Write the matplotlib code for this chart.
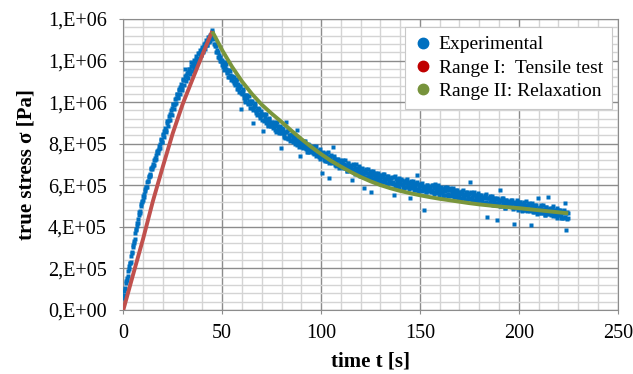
import numpy as np
import matplotlib
matplotlib.use("Agg")
import matplotlib.pyplot as plt
from matplotlib.ticker import MultipleLocator
from matplotlib.lines import Line2D

# experimental stress [kPa], loading part, sampled every 0.5 s (two interleaved scans)
rise_t = np.arange(0, 45.01, 0.5)
rise_kpa = [
    60, 92, 104, 141, 152, 188, 210, 224, 260, 280,
    312, 331, 371, 386, 420, 436, 470, 478, 510, 520,
    548, 556, 584, 590, 618, 620, 646, 650, 676, 677,
    704, 700, 733, 728, 762, 755, 790, 780, 818, 806,
    846, 830, 878, 858, 900, 885, 934, 912, 960, 940,
    990, 965, 1015, 995, 1038, 1020, 1064, 1040, 1085, 1060,
    1105, 1082, 1126, 1100, 1140, 1118, 1160, 1134, 1172, 1150,
    1190, 1165, 1204, 1180, 1220, 1195, 1236, 1210, 1250, 1228,
    1266, 1242, 1282, 1258, 1298, 1275, 1312, 1290, 1325, 1306,
    1345,
]
rise2_t = np.arange(0.25, 44.76, 0.5)
rise2_kpa = [
    70, 103, 131, 143, 162, 196, 225, 233, 272, 302,
    320, 342, 388, 404, 420, 455, 467, 498, 524, 531,
    544, 571, 593, 592, 621, 639, 643, 652, 685, 689,
    695, 720, 723, 747, 766, 768, 773, 801, 822, 810,
    844, 862, 861, 867, 910, 911, 913, 945, 942, 971,
    993, 988, 992, 1020, 1039, 1025, 1057, 1072, 1068, 1071,
    1110, 1106, 1160, 1129, 1120, 1144, 1160, 1150, 1195, 1172,
    1187, 1169, 1197, 1208, 1201, 1200, 1237, 1232, 1228, 1254,
    1245, 1268, 1284, 1274, 1274, 1297, 1312, 1296, 1325, 1339,
]

# relaxation part
decay_t = np.arange(45.5, 225.01, 0.5)
decay_kpa = [
    1320, 1280, 1278, 1243, 1250, 1219, 1227, 1197, 1200, 1178,
    1193, 1156, 1172, 1184, 1143, 1123, 1154, 1132, 1108, 1124,
    1103, 1122, 1081, 1097, 1110, 1065, 1067, 1077, 968, 1056,
    1062, 1033, 1011, 1035, 1021, 996, 1031, 991, 1004, 974,
    900, 984, 994, 948, 962, 972, 945, 922, 955, 941,
    860, 910, 929, 943, 906, 889, 922, 904, 883, 902,
    884, 906, 868, 888, 903, 862, 867, 880, 780, 866,
    875, 850, 831, 858, 905, 826, 864, 828, 844, 817,
    817, 831, 844, 800, 816, 866, 803, 783, 740, 806,
    811, 778, 798, 814, 778, 762, 797, 780, 761, 781,
    764, 787, 750, 770, 787, 747, 752, 767, 726, 754,
    658, 740, 721, 749, 740, 719, 758, 634, 739, 713,
    714, 786, 742, 699, 716, 728, 704, 684, 720, 709,
    715, 683, 704, 721, 686, 671, 707, 691, 673, 694,
    626, 701, 664, 685, 703, 663, 669, 684, 644, 672,
    682, 659, 586, 670, 661, 640, 680, 645, 663, 570,
    639, 654, 668, 626, 643, 657, 634, 615, 651, 641,
    648, 616, 638, 656, 621, 607, 644, 629, 611, 633,
    617, 642, 605, 553, 645, 606, 613, 628, 589, 618,
    629, 606, 589, 618, 610, 590, 630, 596, 614, 537,
    591, 607, 621, 579, 597, 612, 649, 570, 607, 597,
    604, 573, 595, 481, 580, 566, 603, 588, 571, 593,
    577, 602, 566, 588, 607, 568, 575, 591, 552, 581,
    592, 569, 552, 581, 574, 554, 594, 560, 578, 553,
    555, 571, 585, 543, 561, 575, 552, 533, 570, 560,
    567, 536, 558, 577, 543, 529, 566, 551, 535, 557,
    617, 566, 530, 552, 570, 531, 538, 554, 515, 544,
    555, 532, 515, 545, 537, 517, 557, 449, 541, 516,
    518, 534, 548, 506, 525, 539, 516, 433, 534, 524,
    577, 500, 523, 541, 507, 493, 530, 516, 499, 521,
    505, 530, 495, 517, 414, 496, 503, 520, 481, 510,
    521, 498, 481, 510, 502, 482, 522, 488, 506, 481,
    483, 409, 513, 471, 490, 504, 481, 462, 537, 489,
    496, 465, 487, 505, 471, 457, 494, 479, 462, 545,
    468, 493, 457, 479, 498, 459, 466, 482, 443, 472,
    483, 460, 443, 473, 466, 445, 513, 385, 470, 445,
]
decay2_t = np.arange(45.25, 224.76, 0.5)
decay2_kpa = [
    1312, 1304, 1270, 1272, 1243, 1241, 1214, 1218, 1197, 1205,
    1167, 1186, 1191, 1158, 1142, 1154, 1120, 1150, 1126, 1109,
    1122, 1090, 1094, 1108, 1062, 1087, 1074, 1047, 1080, 1043,
    1041, 1053, 1022, 1003, 1030, 1032, 992, 1006, 974, 997,
    1004, 962, 975, 980, 956, 939, 961, 966, 931, 936,
    916, 937, 945, 914, 902, 917, 885, 919, 898, 884,
    904, 874, 881, 899, 856, 884, 874, 850, 886, 853,
    854, 870, 842, 826, 857, 862, 825, 843, 814, 840,
    849, 809, 825, 832, 810, 795, 819, 827, 794, 801,
    782, 805, 814, 785, 774, 790, 760, 795, 776, 763,
    784, 755, 763, 781, 740, 769, 759, 737, 773, 741,
    743, 760, 732, 717, 749, 755, 719, 737, 709, 736,
    746, 707, 723, 731, 710, 695, 720, 728, 696, 704,
    686, 710, 720, 692, 682, 699, 670, 706, 688, 676,
    697, 669, 677, 696, 656, 685, 676, 654, 691, 659,
    661, 679, 652, 638, 670, 676, 641, 660, 633, 660,
    671, 632, 649, 658, 637, 624, 650, 659, 627, 636,
    619, 643, 654, 627, 617, 635, 607, 644, 626, 615,
    637, 610, 618, 638, 598, 628, 620, 598, 636, 605,
    608, 626, 600, 586, 619, 626, 591, 611, 584, 612,
    623, 585, 602, 611, 591, 579, 605, 614, 583, 592,
    575, 600, 611, 585, 576, 594, 566, 603, 586, 575,
    597, 570, 579, 599, 560, 590, 582, 561, 599, 568,
    571, 589, 563, 549, 583, 590, 555, 575, 548, 576,
    587, 549, 566, 575, 555, 542, 568, 577, 546, 555,
    538, 563, 574, 548, 539, 557, 529, 566, 550, 539,
    561, 534, 543, 563, 523, 553, 545, 524, 562, 531,
    534, 552, 526, 513, 546, 553, 518, 538, 511, 539,
    550, 512, 529, 538, 519, 506, 532, 541, 510, 519,
    502, 527, 539, 512, 503, 521, 493, 531, 514, 503,
    525, 498, 508, 528, 488, 518, 510, 490, 528, 497,
    500, 518, 492, 478, 511, 518, 483, 503, 476, 504,
    515, 477, 494, 503, 484, 471, 497, 506, 475, 484,
    467, 492, 503, 476, 467, 485, 457, 494, 477, 466,
    488, 461, 470, 490, 451, 481, 473, 452, 490, 459,
    462, 480, 454, 441, 474, 481, 446, 466, 440, 468,
]

# Range I: tensile test model
tens_t = [0, 5, 10, 15, 20, 25, 30, 35, 40, 45]
tens_kpa = [0, 172, 342, 525, 690, 850, 990, 1110, 1228, 1342]

# Range II: relaxation model
relax_t = [45, 50, 55, 60, 65, 70, 75, 80, 85, 90, 95, 100, 105, 110, 115,
           120, 125, 130, 135, 140, 145, 150, 155, 160, 165, 170, 175, 180,
           185, 190, 195, 200, 205, 210, 215, 220, 225]
relax_kpa = [1340, 1250, 1170, 1100, 1040, 988, 945, 905, 863, 823, 785, 750,
             718, 690, 664, 640, 619, 601, 586, 573, 562, 552, 543, 535, 528,
             521, 514, 508, 503, 498, 494, 490, 485, 480, 475, 470, 465]

y_ticks = [0, 2e5, 4e5, 6e5, 8e5, 1e6, 1.2e6, 1.4e6]
y_ticklabels = ["0,E+00", "2,E+05", "4,E+05", "6,E+05", "8,E+05",
                "1,E+06", "1,E+06", "1,E+06"]
x_ticks = [0, 50, 100, 150, 200, 250]

plt.rcParams["font.family"] = ["Liberation Serif", "DejaVu Serif"]

fig = plt.figure(figsize=(6.33, 3.74), dpi=100)
ax = fig.add_axes([123.3 / 633, 1 - 310 / 374, (617.7 - 123.3) / 633, 291 / 374])

ax.set_xlim(0, 250)
ax.set_ylim(0, 1.4e6)
ax.set_xticks(x_ticks)
ax.set_yticks(y_ticks)
ax.set_yticklabels(y_ticklabels)
ax.xaxis.set_minor_locator(MultipleLocator(10))
ax.yaxis.set_minor_locator(MultipleLocator(4e4))
ax.grid(which="minor", color="#d4d4d4", lw=1.0, zorder=0)
ax.grid(which="major", color="#8c8c8c", lw=1.0, zorder=0)
ax.set_axisbelow(True)
ax.tick_params(which="minor", length=0)
ax.tick_params(which="major", length=3, color="#8c8c8c", labelsize=14.5)
ax.tick_params(axis="x", pad=7)
ax.tick_params(axis="y", pad=9)
for sp in ax.spines.values():
    sp.set_color("#8c8c8c")

exp_style = dict(ls="none", marker="s", ms=2.7, color="#0070C0", mec="none", zorder=3)
ax.plot(rise_t, np.array(rise_kpa) * 1e3, **exp_style)
ax.plot(rise2_t, np.array(rise2_kpa) * 1e3, **exp_style)
ax.plot(decay_t, np.array(decay_kpa) * 1e3, **exp_style)
ax.plot(decay2_t, np.array(decay2_kpa) * 1e3, **exp_style)
ax.plot(tens_t, np.array(tens_kpa) * 1e3, color="#C0504D", lw=2.8, zorder=4, solid_capstyle="butt")
ax.plot(relax_t, np.array(relax_kpa) * 1e3, color="#7A963C", lw=2.8, zorder=4, solid_capstyle="butt")

ax.set_xlabel("time t [s]", fontsize=15, fontweight="bold", labelpad=6)
ax.set_ylabel("true stress σ [Pa]", fontsize=15, fontweight="bold", labelpad=8)

handles = [
    Line2D([], [], ls="none", marker="o", ms=7.5, color="#0070C0"),
    Line2D([], [], ls="none", marker="o", ms=7.5, color="#C00000"),
    Line2D([], [], ls="none", marker="o", ms=7.5, color="#77933C"),
]
labels = ["Experimental", "Range I:  Tensile test", "Range II: Relaxation"]
leg = ax.legend(handles, labels, loc="upper right", bbox_to_anchor=(0.988, 0.9725),
                fontsize=14, frameon=True, fancybox=False, framealpha=1,
                edgecolor="#c8c8c8", handlelength=1.0, handletextpad=0.3,
                labelspacing=0.3, borderpad=0.45, borderaxespad=0)
leg.get_frame().set_linewidth(0.8)
leg.set_zorder(5)

fig.savefig("out.png", dpi=100)
